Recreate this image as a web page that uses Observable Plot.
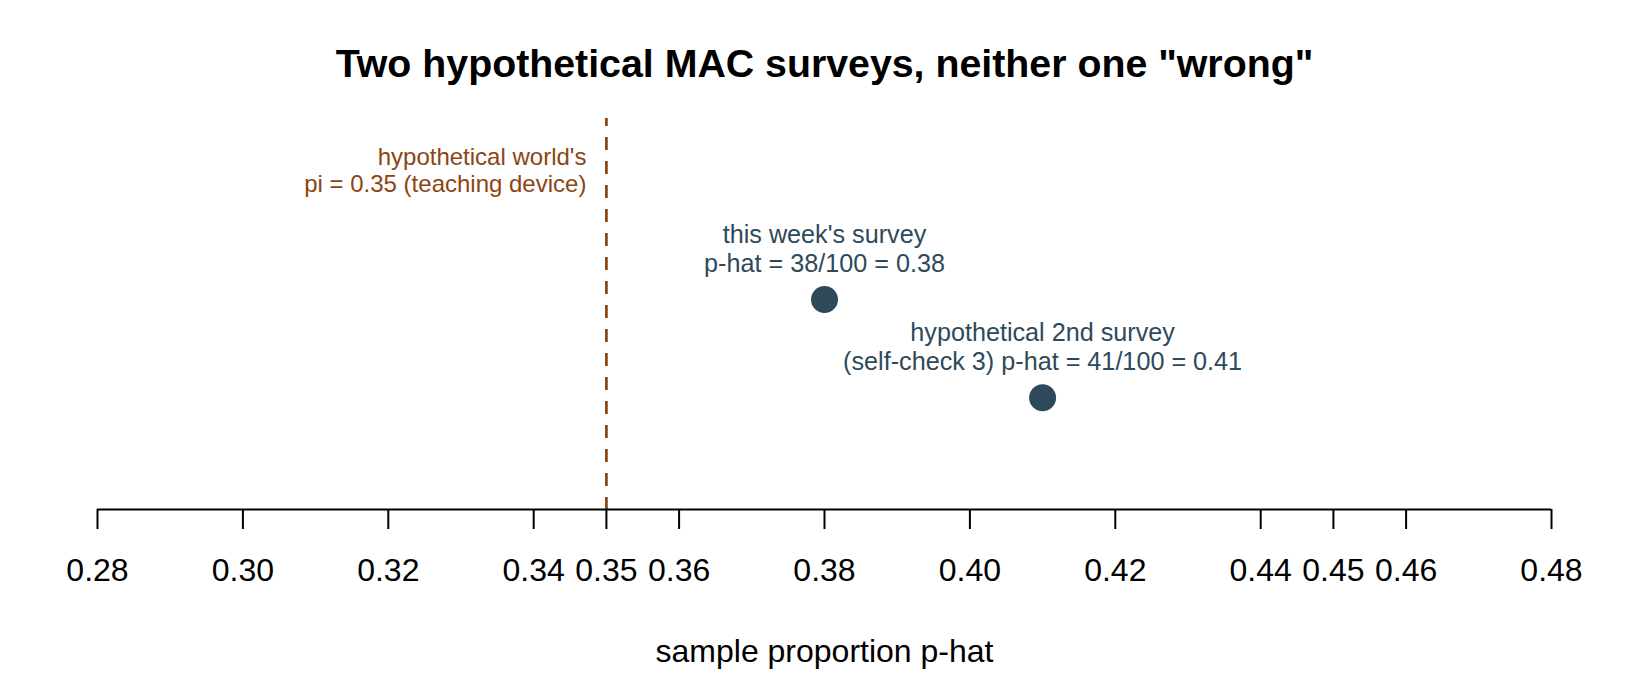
<!DOCTYPE html>
<html>
<head>
<meta charset="utf-8">
<script src="https://cdn.jsdelivr.net/npm/d3@7"></script>
<script src="https://cdn.jsdelivr.net/npm/@observablehq/plot@0.6"></script>
<style>
  html, body { margin: 0; padding: 0; background: #ffffff; }
  #chart svg { display: block; }
</style>
</head>
<body>
<div id="chart"></div>
<script>
// ---- data ----
const titleText = 'Two hypothetical MAC surveys, neither one "wrong"';
const xLabel = "sample proportion p-hat";
const xDomain = [0.28, 0.48];
const tickValues = [0.28, 0.30, 0.32, 0.34, 0.35, 0.36, 0.38, 0.40, 0.42, 0.44, 0.45, 0.46, 0.48];
const piValue = 0.35;
const piLabel = "hypothetical world's\npi = 0.35 (teaching device)";
const piLabelLevel = 0.79;
const surveyPhat = [0.38, 0.41];
const surveyLevel = [0.537, 0.286];
const surveyLabels = [
  "this week's survey\np-hat = 38/100 = 0.38",
  "hypothetical 2nd survey\n(self-check 3) p-hat = 41/100 = 0.41"
];

const surveys = surveyPhat.map((p, i) => ({ phat: p, level: surveyLevel[i], label: surveyLabels[i] }));

const dotColor = "#2E4A5A";
const brown = "#8B4513";
const font = "'Liberation Sans', Arial, Helvetica, sans-serif";

const chart = Plot.plot({
  width: 1650,
  height: 680,
  marginLeft: 97,
  marginRight: 99,
  marginTop: 118,
  marginBottom: 171,
  style: { fontFamily: font, background: "#ffffff", color: "#000" },
  x: { domain: xDomain, nice: false },
  y: { domain: [0, 1], axis: null },
  marks: [
    Plot.ruleX([piValue], {
      stroke: brown, strokeWidth: 2.7, strokeDasharray: "13,11", strokeDashoffset: 5
    }),
    Plot.ruleY([0], { stroke: "#000", strokeWidth: 2 }),
    Plot.axisX({
      ticks: tickValues,
      tickFormat: d3.format(".2f"),
      tickSize: 20,
      tickPadding: 29,
      fontSize: 32,
      stroke: "#000",
      strokeWidth: 2,
      fill: "#000",
      label: null
    }),
    Plot.text([piLabel], {
      x: () => piValue, y: () => piLabelLevel, text: d => d,
      textAnchor: "end", lineAnchor: "bottom", dx: -20, dy: -9,
      fontSize: 24, lineHeight: 1.12, fill: brown
    }),
    Plot.dot(surveys, { x: "phat", y: "level", r: 13.5, fill: dotColor, stroke: "none" }),
    Plot.text(surveys, {
      x: "phat", y: "level", text: "label",
      lineAnchor: "bottom", dy: -28,
      fontSize: 25.2, lineHeight: 1.12, fill: dotColor
    }),
    Plot.text([titleText], {
      frameAnchor: "top", text: d => d, lineAnchor: "bottom", dy: -42,
      fontSize: 39.3, fontWeight: "bold", fill: "#000"
    }),
    Plot.text([xLabel], {
      frameAnchor: "bottom", text: d => d, lineAnchor: "bottom", dy: 152.5,
      fontSize: 32, fill: "#000"
    })
  ]
});

document.getElementById("chart").appendChild(chart);
</script>
</body>
</html>
